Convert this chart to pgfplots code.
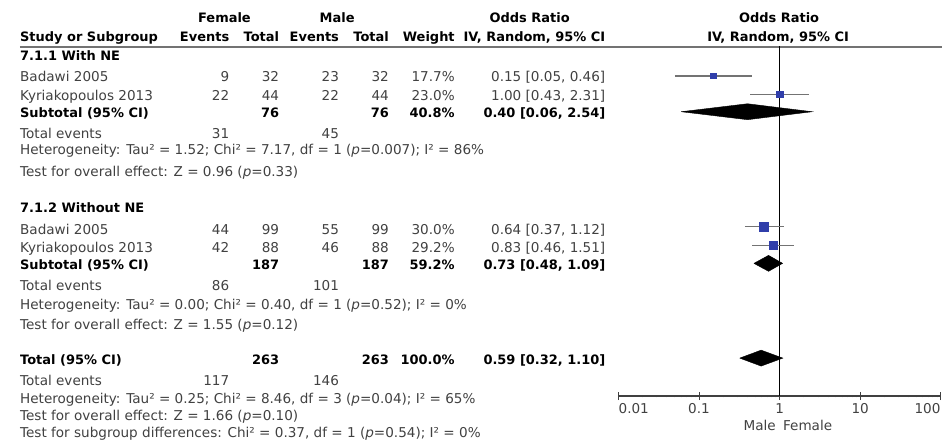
\documentclass[border=0pt]{standalone}
\usepackage{pgfplots}
\pgfplotsset{compat=1.18}
\usepackage{fontspec}
\setmainfont{DejaVu Sans}
\definecolor{txt}{RGB}{65,65,65}
\definecolor{mk}{RGB}{48,62,170}
\definecolor{ci}{RGB}{115,115,115}
\newcommand{\fs}{\fontsize{13.6}{15}\selectfont}
\newcommand{\fb}{\fontsize{13}{15}\selectfont\bfseries}
\newcommand{\R}[3]{\node[anchor=base east,inner sep=0pt,text=txt] at (#1,#2) {#3};}
\newcommand{\RB}[3]{\node[anchor=base east,inner sep=0pt,text=black,font=\fb] at (#1,#2) {#3};}
\newcommand{\Lt}[3]{\node[anchor=base west,inner sep=0pt,text=txt] at (#1,#2) {#3};}
\newcommand{\LB}[3]{\node[anchor=base west,inner sep=0pt,text=black,font=\fb] at (#1,#2) {#3};}
\newcommand{\CB}[3]{\node[anchor=base,inner sep=0pt,text=black,font=\fb] at (#1,#2) {#3};}
\newcommand{\pp}{\textit{p}}
\begin{document}
\begin{tikzpicture}[x=1pt,y=1pt,every node/.style={font=\fs}]
\path (0,0) rectangle (944,447);
% headers
\CB{225}{424.3}{Female}
\CB{338}{424.3}{Male}
\CB{531}{424.3}{Odds Ratio}
\CB{781}{424.3}{Odds Ratio}
\LB{20}{405}{Study or Subgroup}
\RB{230}{405}{Events}
\RB{280}{405}{Total}
\RB{340}{405}{Events}
\RB{390}{405}{Total}
\RB{456}{405}{Weight}
\RB{607}{405}{IV, Random, 95\% CI}
\CB{780}{405}{IV, Random, 95\% CI}
\draw[line width=2pt,color=black!55] (20,400) -- (944,400);
% group 1
\LB{20}{386.5}{7.1.1 With NE}
\Lt{20}{365.3}{Badawi 2005}
\R{230}{365.3}{9}\R{280}{365.3}{32}\R{340}{365.3}{23}\R{390}{365.3}{32}\R{456}{365.3}{17.7\%}\R{607}{365.3}{0.15 [0.05, 0.46]}
\Lt{20}{346.5}{Kyriakopoulos 2013}
\R{230}{346.5}{22}\R{280}{346.5}{44}\R{340}{346.5}{22}\R{390}{346.5}{44}\R{456}{346.5}{23.0\%}\R{607}{346.5}{1.00 [0.43, 2.31]}
\LB{20}{329.5}{Subtotal (95\% CI)}
\RB{280}{329.5}{76}\RB{390}{329.5}{76}\RB{456}{329.5}{40.8\%}\RB{607}{329.5}{0.40 [0.06, 2.54]}
\Lt{20}{308.5}{Total events}
\R{230}{308.5}{31}\R{340}{308.5}{45}
\Lt{20}{292}{Heterogeneity: Tau² = 1.52; Chi² = 7.17, df = 1 (\pp=0.007); I² = 86\%}
\Lt{20}{270.5}{Test for overall effect: Z = 0.96 (\pp=0.33)}
% group 2
\LB{20}{234}{7.1.2 Without NE}
\Lt{20}{212}{Badawi 2005}
\R{230}{212}{44}\R{280}{212}{99}\R{340}{212}{55}\R{390}{212}{99}\R{456}{212}{30.0\%}\R{607}{212}{0.64 [0.37, 1.12]}
\Lt{20}{194}{Kyriakopoulos 2013}
\R{230}{194}{42}\R{280}{194}{88}\R{340}{194}{46}\R{390}{194}{88}\R{456}{194}{29.2\%}\R{607}{194}{0.83 [0.46, 1.51]}
\LB{20}{177}{Subtotal (95\% CI)}
\RB{280}{177}{187}\RB{390}{177}{187}\RB{456}{177}{59.2\%}\RB{607}{177}{0.73 [0.48, 1.09]}
\Lt{20}{155.3}{Total events}
\R{230}{155.3}{86}\R{340}{155.3}{101}
\Lt{20}{137}{Heterogeneity: Tau² = 0.00; Chi² = 0.40, df = 1 (\pp=0.52); I² = 0\%}
\Lt{20}{117}{Test for overall effect: Z = 1.55 (\pp=0.12)}
% total
\LB{20}{82}{Total (95\% CI)}
\RB{280}{82}{263}\RB{390}{82}{263}\RB{456}{82}{100.0\%}\RB{607}{82}{0.59 [0.32, 1.10]}
\Lt{20}{60.3}{Total events}
\R{230}{60.3}{117}\R{340}{60.3}{146}
\Lt{20}{42}{Heterogeneity: Tau² = 0.25; Chi² = 8.46, df = 3 (\pp=0.04); I² = 65\%}
\Lt{20}{25.3}{Test for overall effect: Z = 1.66 (\pp=0.10)}
\Lt{20}{8.7}{Test for subgroup differences: Chi² = 0.37, df = 1 (\pp=0.54); I² = 0\%}
\begin{axis}[
  at={(620pt,50pt)}, anchor=south west, scale only axis,
  width=323pt, height=351pt,
  xmode=log, xmin=0.01, xmax=100, ymin=50, ymax=401,
  axis x line=bottom, axis y line=none,
  x axis line style={-,line width=1.2pt,color=black!75},
  xtick={0.01,0.1,1,10,100}, minor xtick={}, xticklabels={},
  tick align=center, major tick length=8pt,
  tick style={line width=1pt,color=black!75},
  clip=false]
\addplot[black,line width=1.2pt] coordinates {(1,50) (1,401)};
% CI lines
\addplot[ci,line width=1.5pt] coordinates {(0.05,371) (0.46,371)};
\addplot[ci,line width=1.5pt] coordinates {(0.43,352.5) (2.31,352.5)};
\addplot[ci,line width=1.5pt] coordinates {(0.37,220) (1.12,220)};
\addplot[ci,line width=1.5pt] coordinates {(0.46,201) (1.51,201)};
% squares
\addplot[only marks,mark=square*,mark size=2.6pt,mk,mark options={draw=mk,fill=mk}] coordinates {(0.15,371)};
\addplot[only marks,mark=square*,mark size=3.2pt,mk,mark options={draw=mk,fill=mk}] coordinates {(1.00,352.5)};
\addplot[only marks,mark=square*,mark size=4.3pt,mk,mark options={draw=mk,fill=mk}] coordinates {(0.64,220)};
\addplot[only marks,mark=square*,mark size=4.2pt,mk,mark options={draw=mk,fill=mk}] coordinates {(0.83,201)};
% diamonds
\addplot[fill=black,draw=black] coordinates {(0.06,335) (0.40,343) (2.54,335) (0.40,327) (0.06,335)};
\addplot[fill=black,draw=black] coordinates {(0.48,183) (0.73,191) (1.09,183) (0.73,175) (0.48,183)};
\addplot[fill=black,draw=black] coordinates {(0.32,88) (0.59,96) (1.10,88) (0.59,80) (0.32,88)};
% tick labels and direction labels
\node[anchor=base west,inner sep=0pt,text=txt] at (axis cs:0.01,32) {0.01};
\node[anchor=base,inner sep=0pt,text=txt] at (axis cs:0.1,32) {0.1};
\node[anchor=base,inner sep=0pt,text=txt] at (axis cs:1,32) {1};
\node[anchor=base,inner sep=0pt,text=txt] at (axis cs:10,32) {10};
\node[anchor=base east,inner sep=0pt,text=txt] at (axis cs:100,32) {100};
\node[anchor=base east,inner sep=0pt,text=txt] at (axis cs:0.9,15.3) {Male};
\node[anchor=base west,inner sep=0pt,text=txt] at (axis cs:1.1,15.3) {Female};
\end{axis}
\end{tikzpicture}
\end{document}
